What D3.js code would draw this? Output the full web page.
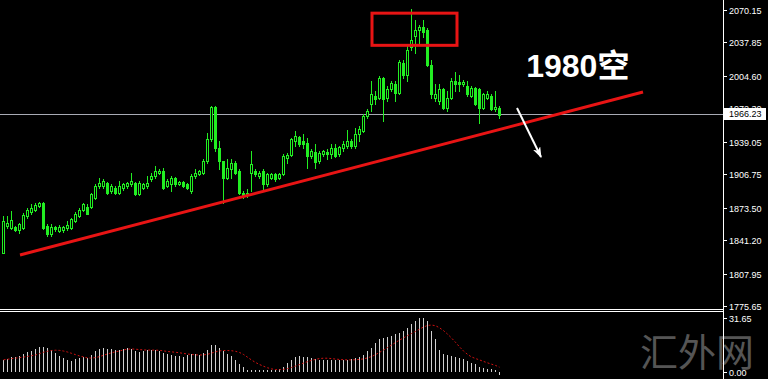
<html>
<head>
<meta charset="utf-8">
<title>XAUUSD candles</title>
<script src="https://d3js.org/d3.v7.min.js"></script>
<style>body{margin:0;background:#000;}</style>
</head>
<body>
<div id="chart"></div>
<script>
// bars
var open = [1828,1855,1853,1854,1851,1853,1865,1869,1871,1875,
	1878,1855,1847,1854,1850,1851,1853,1853,1860,1865,
	1871,1874,1874,1883,1895,1895,1898,1890,1893,1888,
	1893,1895,1897,1898,1887,1893,1895,1902,1905,1908,
	1910,1895,1897,1903,1897,1899,1897,1890,1905,1907,
	1908,1920,1942,1974,1933,1920,1903,1912,1918,1910,
	1888,1886,1908,1910,1905,1910,1897,1903,1907,1903,
	1907,1923,1926,1940,1944,1940,1938,1925,1929,1920,
	1927,1929,1927,1933,1927,1933,1935,1940,1935,1947,
	1950,1965,1977,1985,1983,2002,1983,1992,1997,1988,
	2017,2005,2033,2044,2050,2053,2050,2015,1983,1980,
	1992,1973,1983,2000,1999,1997,1995,1985,1993,1992,
	1973,1983,1985,1972,1973];
var high = [1865,1865,1870,1855,1858,1868,1873,1877,1878,1879,
	1879,1857,1857,1855,1856,1855,1860,1863,1869,1873,
	1878,1877,1888,1897,1903,1902,1899,1897,1895,1900,
	1898,1899,1908,1899,1900,1898,1905,1908,1915,1912,
	1913,1902,1905,1904,1900,1900,1898,1907,1912,1911,
	1922,1948,1975,1975,1940,1920,1922,1922,1920,1912,
	1890,1892,1930,1912,1910,1912,1908,1908,1908,1908,
	1927,1928,1943,1950,1945,1947,1943,1932,1937,1930,
	1931,1932,1937,1937,1935,1940,1951,1942,1953,1955,
	1967,1972,2000,1990,2004,2003,1995,2000,2000,2020,
	2020,2035,2071,2060,2055,2060,2052,2020,1997,1997,
	1993,1990,2002,2008,2005,2001,2000,1995,1994,1993,
	1988,1990,1987,1990,1975];
var low = [1828,1853,1852,1850,1848,1852,1863,1867,1870,1874,
	1852,1845,1845,1850,1849,1849,1851,1852,1859,1864,
	1870,1867,1873,1882,1893,1893,1887,1888,1887,1887,
	1891,1893,1895,1886,1886,1892,1893,1900,1903,1907,
	1892,1894,1890,1895,1896,1894,1892,1888,1903,1906,
	1907,1918,1940,1930,1912,1878,1902,1903,1907,1887,
	1883,1884,1890,1905,1903,1890,1895,1902,1900,1902,
	1906,1918,1925,1935,1935,1933,1913,1923,1913,1918,
	1925,1922,1923,1924,1925,1930,1933,1933,1933,1940,
	1949,1963,1970,1977,1982,1960,1980,1990,1980,1987,
	2002,2000,2030,2027,2037,2043,2014,1983,1980,1977,
	1972,1970,1982,1990,1990,1995,1985,1984,1976,1958,
	1972,1982,1971,1970,1963];
var close = [1860,1858,1861,1851,1857,1866,1871,1873,1876,1878,
	1853,1847,1854,1852,1854,1854,1856,1862,1867,1871,
	1877,1867,1887,1895,1898,1900,1888,1895,1888,1895,
	1897,1898,1900,1887,1898,1897,1898,1905,1910,1910,
	1893,1900,1903,1897,1899,1895,1893,1905,1908,1910,
	1920,1942,1974,1933,1920,1903,1913,1918,1908,1888,
	1885,1888,1917,1907,1908,1897,1907,1907,1902,1907,
	1925,1926,1942,1945,1937,1937,1925,1930,1919,1928,
	1930,1927,1933,1925,1934,1937,1940,1935,1947,1952,
	1965,1970,1987,1982,2002,1982,1992,1998,1988,2018,
	2005,2030,2040,2050,2053,2048,2015,1987,1987,1992,
	1973,1983,2000,1997,1997,1999,1987,1993,1977,1973,
	1987,1987,1972,1974,1966];
// lower window histogram
var macd = [6.9,7.5,8.4,8.8,9.2,10.2,11.2,12.2,13.1,14.3,
	14.7,13.7,12.8,10.8,9.2,7.8,6.9,6.3,7.2,7.8,
	8.4,7.8,9.8,11.8,13.1,13.7,13.4,13.4,12.8,12.8,
	13.5,13.7,13.4,11.8,11.4,11.8,12.4,12.8,12.8,12.2,
	10.8,10.2,9.8,9.2,9.2,8.8,9.8,10.2,10.4,9.8,
	10.8,12.8,15.7,15.7,14.1,11.8,10.2,9.2,6.9,4.5,
	2.4,1.0,1.0,1.0,1.0,1.0,1.0,1.0,1.0,1.6,
	2.9,4.9,6.9,8.4,9.2,8.8,8.4,7.8,7.2,6.9,
	6.9,6.9,6.5,6.5,6.9,6.9,6.9,7.2,7.8,8.4,
	9.8,11.8,13.7,16.7,19.0,19.6,20.2,21.0,22.0,22.6,
	23.6,25.5,28.1,30.0,31.4,31.65,29.5,24.1,19.0,12.8,
	10.4,9.8,9.2,8.4,7.8,7.2,6.3,5.3,4.5,2.9,
	1.9,1.6,1.4,1.0,-1.9];
var priceTicks = [2070.15, 2037.85, 2004.60, 1972.30, 1939.05, 1906.75, 1873.50, 1841.20, 1807.95, 1775.65];
var macdTicks = [31.65, 0];
var lastPrice = 1966.23;
// drawings: [bar index, price]
var trendLine = [[4.25, 1826.4], [160, 1988.6]];
var boxArea = [[92.25, 2067], [113.5, 2035]];
var arrowLine = [[128.5, 1972.6], [134.5, 1923.9]];
var note = {i: 130.8, p: 2003, text: "1980空"};
var watermark = "汇外网";

var green = "#22ee22";
var svg = d3.select("#chart").append("svg")
	.attr("width", 768)
	.attr("height", 379)
	.style("background", "#000");

var x = d3.scaleLinear().domain([0, 124]).range([3, 499]);
var y = d3.scaleLinear().domain([1775.65, 2070.15]).range([306, 10]);
var yM = d3.scaleLinear().domain([0, 31.65]).range([371.5, 317.8]);

// signal = SMA(9) of the histogram
var signal = macd.map(function(v, i) {
	return d3.mean(macd.slice(Math.max(0, i - 8), i + 1));
});

function cx(i) { return Math.round(x(i)) + 0.5; }

// watermark
svg.append("text")
	.attr("x", 640)
	.attr("y", 366)
	.attr("fill", "#555")
	.attr("font-size", "38px")
	.attr("font-family", "'Noto Sans CJK SC'")
	.text(watermark);

// current price line
svg.append("line")
	.attr("x1", 0).attr("x2", 723)
	.attr("y1", Math.round(y(lastPrice)) + 0.5).attr("y2", Math.round(y(lastPrice)) + 0.5)
	.attr("stroke", "#a8aab4")
	.attr("stroke-width", 1);

// candles
var idx = d3.range(open.length);
var candles = svg.append("g");
candles.selectAll("line.wick").data(idx).enter().append("line")
	.attr("class", "wick")
	.attr("x1", cx).attr("x2", cx)
	.attr("y1", function(i) { return Math.round(y(high[i])); })
	.attr("y2", function(i) { return Math.round(y(low[i])) + 1; })
	.attr("stroke", green);
candles.selectAll("rect").data(idx).enter().append("rect")
	.attr("x", function(i) { return cx(i) - 1; })
	.attr("y", function(i) { return Math.round(y(Math.max(open[i], close[i]))) + 0.5; })
	.attr("width", 2)
	.attr("height", function(i) { return Math.max(0.01, Math.round(y(Math.min(open[i], close[i]))) - Math.round(y(Math.max(open[i], close[i])))); })
	.attr("fill", function(i) { return close[i] >= open[i] ? "#000" : green; })
	.attr("stroke", green)
	.attr("stroke-width", 1);

// trend line
svg.append("line")
	.attr("x1", x(trendLine[0][0])).attr("y1", y(trendLine[0][1]))
	.attr("x2", x(trendLine[1][0])).attr("y2", y(trendLine[1][1]))
	.attr("stroke", "#e81414")
	.attr("stroke-width", 3);

// rectangle round the top
svg.append("rect")
	.attr("x", x(boxArea[0][0]))
	.attr("y", y(boxArea[0][1]))
	.attr("width", x(boxArea[1][0]) - x(boxArea[0][0]))
	.attr("height", y(boxArea[1][1]) - y(boxArea[0][1]))
	.attr("fill", "none")
	.attr("stroke", "#e81414")
	.attr("stroke-width", 3);

// arrow
svg.append("defs").append("marker")
	.attr("id", "head")
	.attr("markerUnits", "userSpaceOnUse")
	.attr("markerWidth", 12).attr("markerHeight", 8)
	.attr("refX", 10).attr("refY", 4)
	.attr("orient", "auto")
	.append("path")
	.attr("d", "M0,0 L11,4 L0,8 L3,4 Z")
	.attr("fill", "#fff");
svg.append("line")
	.attr("x1", x(arrowLine[0][0])).attr("y1", y(arrowLine[0][1]))
	.attr("x2", x(arrowLine[1][0])).attr("y2", y(arrowLine[1][1]))
	.attr("stroke", "#fff")
	.attr("stroke-width", 2)
	.attr("marker-end", "url(#head)");

svg.append("text")
	.attr("x", x(note.i))
	.attr("y", y(note.p))
	.attr("fill", "#fff")
	.attr("font-size", "32px")
	.attr("font-weight", "bold")
	.attr("font-family", "'Liberation Sans', 'Noto Sans CJK SC', sans-serif")
	.text(note.text);

// window separator
[309.5, 311.5].forEach(function(v) {
	svg.append("line")
		.attr("x1", 0).attr("x2", 723)
		.attr("y1", v).attr("y2", v)
		.attr("stroke", "#fff");
});

// histogram + signal
svg.append("g").selectAll("line").data(idx).enter().append("line")
	.attr("x1", cx).attr("x2", cx)
	.attr("y1", Math.round(yM(0)))
	.attr("y2", function(i) { return Math.round(yM(macd[i])); })
	.attr("stroke", "#d0d0d0");
svg.append("path")
	.datum(idx)
	.attr("d", d3.line().x(cx).y(function(i) { return yM(signal[i]); }))
	.attr("fill", "none")
	.attr("stroke", "#d01010")
	.attr("stroke-width", 1)
	.attr("stroke-dasharray", "2,2");

// right price scale
svg.append("line")
	.attr("x1", 723.5).attr("x2", 723.5)
	.attr("y1", 0).attr("y2", 379)
	.attr("stroke", "#fff");
var scale = svg.append("g")
	.attr("font-size", "9px")
	.attr("font-family", "'Liberation Sans', Arial, sans-serif")
	.attr("fill", "#fff");
priceTicks.forEach(function(t) {
	var yy = Math.round(y(t)) + 0.5;
	scale.append("line").attr("x1", 724).attr("x2", 727).attr("y1", yy).attr("y2", yy).attr("stroke", "#fff");
	scale.append("text").attr("x", 729).attr("y", yy).attr("dy", "0.35em").text(t.toFixed(2));
});
macdTicks.forEach(function(t) {
	var yy = Math.round(yM(t)) + 0.5;
	scale.append("line").attr("x1", 724).attr("x2", 727).attr("y1", yy).attr("y2", yy).attr("stroke", "#fff");
	scale.append("text").attr("x", 729).attr("y", yy).attr("dy", "0.35em").text(t.toFixed(2));
});
// last price tag
var ly = Math.round(y(lastPrice));
scale.append("rect")
	.attr("x", 724).attr("y", ly - 6)
	.attr("width", 42).attr("height", 12)
	.attr("fill", "#fff");
scale.append("text")
	.attr("x", 729).attr("y", ly)
	.attr("dy", "0.35em")
	.attr("fill", "#000")
	.text(lastPrice.toFixed(2));
</script>
</body>
</html>
